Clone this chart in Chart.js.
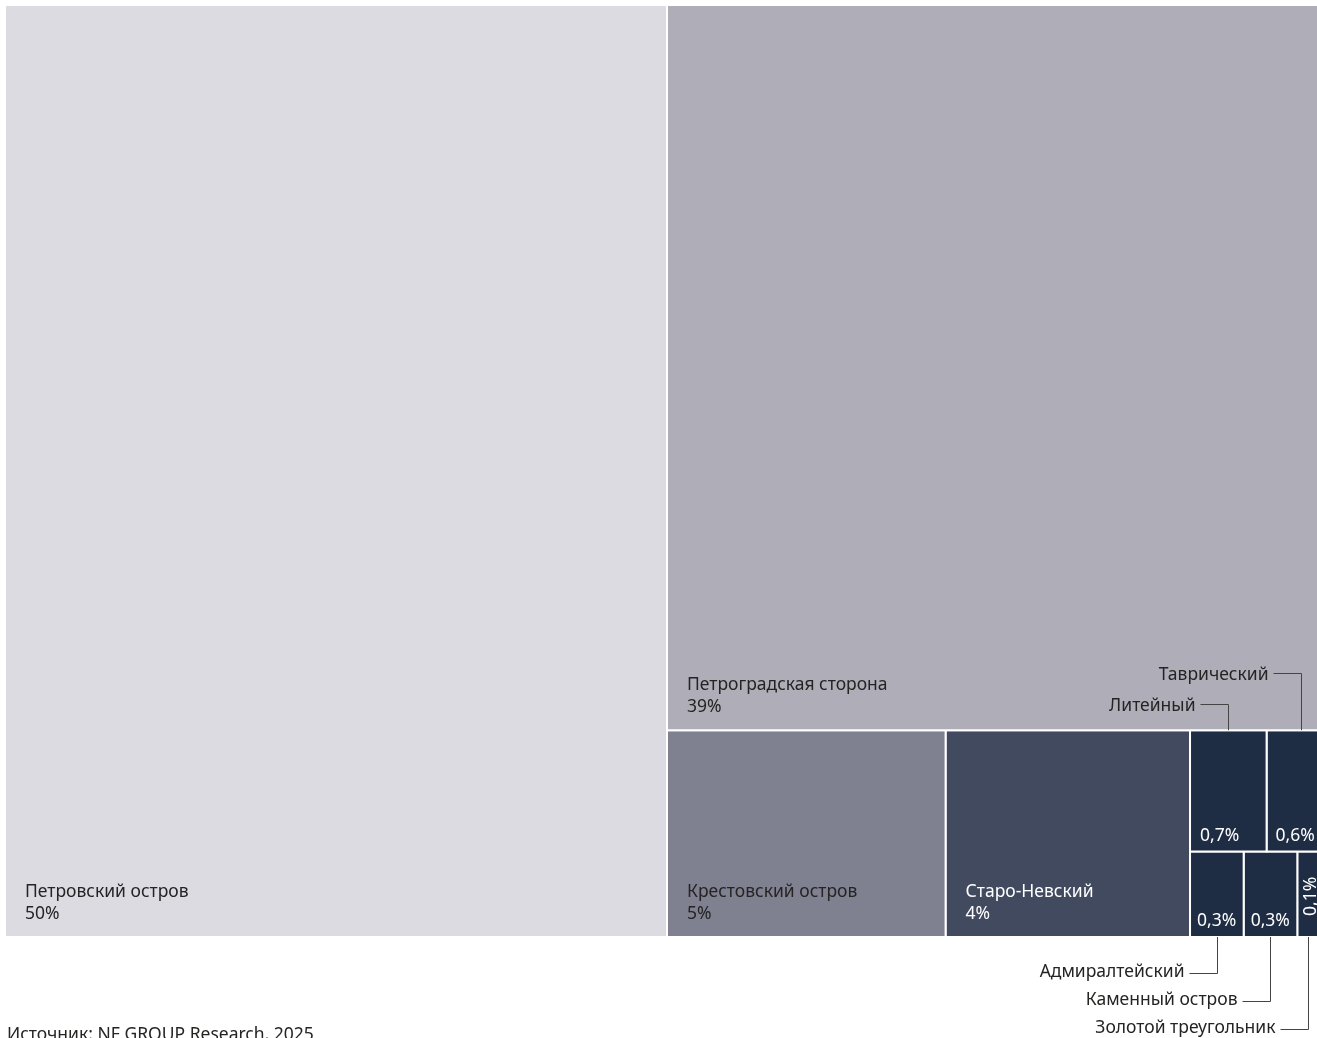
<!DOCTYPE html>
<html lang="ru">
<head>
<meta charset="utf-8">
<title>Доля районов</title>
<script src="https://cdn.jsdelivr.net/npm/chart.js@4.4.1/dist/chart.umd.min.js"></script>
<style>
  html, body { margin: 0; padding: 0; background: #fff; overflow: hidden; width: 1317px; height: 1038px; }
  #chart-wrap { position: absolute; left: 0; top: 0; width: 1340px; height: 1038px; }
  #source { position: absolute; left: 7px; top: 1023px; font: 17.5px "Segoe UI", "Noto Sans", sans-serif; line-height: 20px; color: #252423; white-space: nowrap; }
</style>
</head>
<body>
<div id="chart-wrap"><canvas id="treemap"></canvas></div>
<div id="source">Источник: NF GROUP Research, 2025</div>
<script>
// данные: районы, доли (по площади ячеек), подписи как на картинке
const districts = [
  "Петровский остров",
  "Петроградская сторона",
  "Крестовский остров",
  "Старо-Невский",
  "Литейный",
  "Таврический",
  "Адмиралтейский",
  "Каменный остров",
  "Золотой треугольник",
];
const shares = [49.8, 39.1, 4.65, 4.08, 0.75, 0.67, 0.37, 0.37, 0.26];
const shareLabels = ["50%", "39%", "5%", "4%", "0,7%", "0,6%", "0,3%", "0,3%", "0,1%"];

const cellColors = ["#DCDBE2", "#AFADB8", "#7F8090", "#414A5E", "#1F2D44", "#1F2D44", "#1F2D44", "#1F2D44", "#1F2D44"];
const AREA_W = 1330;
const AREA_H = 932;
const FONT = '17.5px "Segoe UI", "Noto Sans", sans-serif';
const DARK_TEXT = "#252423";

// squarified treemap (Bruls et al.)
function worst(row, side, k) {
  const sum = row.reduce((a, b) => a + b, 0) * k;
  const max = Math.max(...row) * k;
  const min = Math.min(...row) * k;
  return Math.max((side * side * max) / (sum * sum), (sum * sum) / (side * side * min));
}

function squarify(values, width, height) {
  const total = values.reduce((a, b) => a + b, 0);
  const k = (width * height) / total;
  const cells = [];
  let x = 0, y = 0, w = width, h = height, i = 0;
  while (i < values.length) {
    const side = Math.min(w, h);
    const row = [values[i]];
    let j = i + 1;
    while (j < values.length && worst(row.concat(values[j]), side, k) <= worst(row, side, k)) {
      row.push(values[j]);
      j++;
    }
    const thick = (row.reduce((a, b) => a + b, 0) * k) / side;
    let off = 0;
    row.forEach((v) => {
      const len = (v * k) / thick;
      if (w >= h) cells.push({ x0: x, x1: x + thick, y0: y + off, y1: y + off + len });
      else cells.push({ x0: x + off, x1: x + off + len, y0: y, y1: y + thick });
      off += len;
    });
    if (w >= h) { x += thick; w -= thick; } else { y += thick; h -= thick; }
    i = j;
  }
  return cells;
}

const cells = squarify(shares, AREA_W, AREA_H);

function isDark(hex) {
  const r = parseInt(hex.slice(1, 3), 16), g = parseInt(hex.slice(3, 5), 16), b = parseInt(hex.slice(5, 7), 16);
  return (0.299 * r + 0.587 * g + 0.114 * b) / 255 < 0.4;
}

const datasets = cells.map((c, i) => ({
  label: districts[i],
  data: [
    { x: c.x0, y: c.y0 },
    { x: c.x1, y: c.y0 },
    { x: c.x1, y: c.y1 },
    { x: c.x0, y: c.y1 },
    { x: c.x0, y: c.y0 },
  ],
  showLine: true,
  fill: "shape",
  backgroundColor: cellColors[i],
  borderColor: "#ffffff",
  borderWidth: 2,
  pointRadius: 0,
}));

const labelsPlugin = {
  id: "cellLabels",
  afterDatasetsDraw(chart) {
    const ctx = chart.ctx;
    const xs = chart.scales.x;
    const ys = chart.scales.y;
    const bottomEdge = ys.getPixelForValue(AREA_H);
    const outside = { top: [], bottom: [] };

    ctx.save();
    ctx.font = FONT;
    cells.forEach((c, i) => {
      const left = xs.getPixelForValue(c.x0);
      const right = xs.getPixelForValue(c.x1);
      const top = ys.getPixelForValue(c.y0);
      const bottom = ys.getPixelForValue(c.y1);
      const w = right - left;
      const pad = Math.min(20, w * 0.13);
      ctx.fillStyle = isDark(cellColors[i]) ? "#ffffff" : DARK_TEXT;
      ctx.textAlign = "left";
      ctx.textBaseline = "alphabetic";
      const nameW = ctx.measureText(districts[i]).width;
      const pctW = ctx.measureText(shareLabels[i]).width;

      if (nameW + 2 * pad <= w) {
        ctx.fillText(districts[i], left + pad, bottom - 40);
        ctx.fillText(shareLabels[i], left + pad, bottom - 18.5);
        return;
      }
      if (pctW + 2 * pad <= w) {
        ctx.fillText(shareLabels[i], left + pad, bottom - 11);
      } else {
        // узкая ячейка: подпись повернута
        ctx.save();
        ctx.translate(left + 5, bottom - 21);
        ctx.rotate(-Math.PI / 2);
        ctx.textBaseline = "top";
        ctx.fillText(shareLabels[i], 0, 0);
        ctx.restore();
      }
      const side = Math.abs(bottom - bottomEdge) < 1 ? "bottom" : "top";
      outside[side].push({ i, left, right, top, bottom });
    });

    // выноски для маленьких ячеек
    ctx.strokeStyle = "#444444";
    ctx.lineWidth = 1;
    ctx.fillStyle = DARK_TEXT;
    ctx.textAlign = "right";
    ctx.textBaseline = "alphabetic";
    Object.keys(outside).forEach((side) => {
      outside[side]
        .sort((a, b) => a.left - b.left)
        .forEach((o, level) => {
          const ax = Math.round(Math.min((o.left + o.right) / 2, window.innerWidth - 9)) + 0.5;
          const ly = side === "top"
            ? Math.round(o.top - 26.5 - 31 * level) + 0.5
            : Math.round(o.bottom + 35.5 + 28.5 * level) + 0.5;
          ctx.beginPath();
          ctx.moveTo(ax - 28, ly);
          ctx.lineTo(ax, ly);
          ctx.lineTo(ax, side === "top" ? o.top : o.bottom);
          ctx.stroke();
          ctx.fillText(districts[o.i], ax - 33, ly + (side === "top" ? 6 : 3));
        });
    });
    ctx.restore();
  },
};

new Chart(document.getElementById("treemap"), {
  type: "line",
  data: { datasets },
  options: {
    responsive: true,
    maintainAspectRatio: false,
    animation: false,
    events: [],
    layout: { padding: { left: 5, top: 5, right: 5, bottom: 101 } },
    scales: {
      x: { type: "linear", min: 0, max: AREA_W, display: false },
      y: { type: "linear", min: 0, max: AREA_H, reverse: true, display: false },
    },
    elements: { line: { tension: 0 } },
    plugins: {
      legend: { display: false },
      tooltip: { enabled: false },
    },
  },
  plugins: [labelsPlugin],
});
</script>
</body>
</html>
